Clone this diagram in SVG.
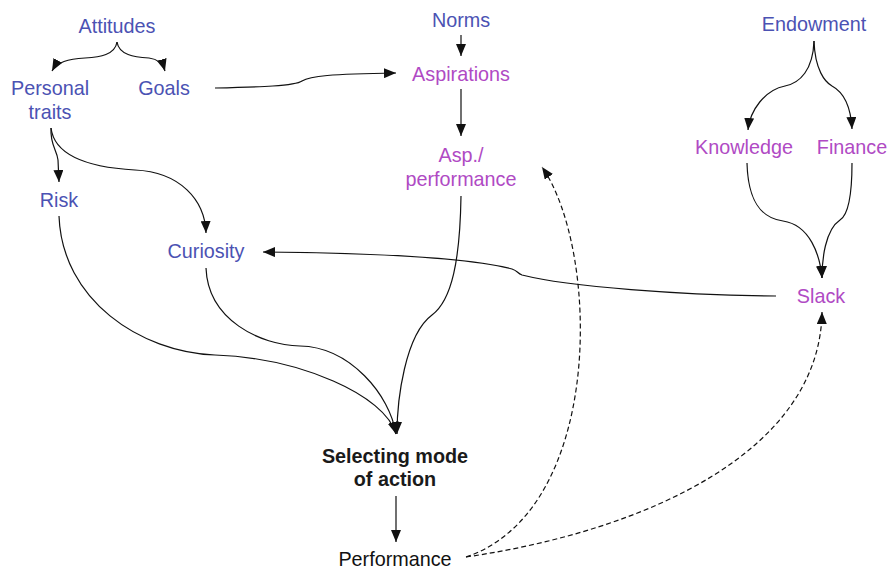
<svg xmlns="http://www.w3.org/2000/svg" width="889" height="569" viewBox="0 0 889 569">
<style>
text{font-family:"Liberation Sans",Arial,sans-serif;font-size:19.8px;text-anchor:middle}
.b{fill:#4b52b3}
.m{fill:#b04ac4}
.k{fill:#111}
.bold{font-weight:bold;fill:#1a1a1a}
.c{fill:none;stroke:#111;stroke-width:1.2}
.d{fill:none;stroke:#111;stroke-width:1.2;stroke-dasharray:5 3}
</style>
<defs>
<marker id="ah" markerUnits="userSpaceOnUse" markerWidth="12" markerHeight="10" viewBox="0 0 12 10" refX="12" refY="5" orient="auto">
<path d="M0,0 L12,5 L0,10 Z" fill="#111"/>
</marker>
</defs>
<rect width="889" height="569" fill="#fff"/>
<g id="connectors">
<path class="c" d="M117,42 C115,55 100,57 85,58 C68,59 57,62 52,71" marker-end="url(#ah)"/>
<path class="c" d="M117,42 C119,55 134,57 149,58 C158,59 163,64 165,71" marker-end="url(#ah)"/>
<path class="c" d="M215,88 C260,87 295,86 302,81 C310,76 330,74 396,73" marker-end="url(#ah)"/>
<path class="c" d="M461,35 L461,56" marker-end="url(#ah)"/>
<path class="c" d="M461,89 L461,136" marker-end="url(#ah)"/>
<path class="c" d="M51,128 C50,145 57,150 58,160 L59,182" marker-end="url(#ah)"/>
<path class="c" d="M51,128 C55,160 100,168 135,170 C180,172 205,200 206,233" marker-end="url(#ah)"/>
<path class="c" d="M59,216 C62,300 140,352 215,355 C300,358 385,395 396,434" marker-end="url(#ah)"/>
<path class="c" d="M206,268 C208,320 260,345 300,346 C350,347 390,395 396,434" marker-end="url(#ah)"/>
<path class="c" d="M461,196 C460,260 452,300 432,315 C405,335 397,400 397,434" marker-end="url(#ah)"/>
<path class="c" d="M396,496 L396,542" marker-end="url(#ah)"/>
<path class="c" d="M814,41 C813,70 800,83 785,86 C765,90 750,110 748,130" marker-end="url(#ah)"/>
<path class="c" d="M814,41 C815,70 825,82 832,86 C845,93 851,110 852,129" marker-end="url(#ah)"/>
<path class="c" d="M747,163 C748,200 760,218 783,221 C810,225 820,255 822,278" marker-end="url(#ah)"/>
<path class="c" d="M852,163 C852,195 848,215 840,220 C825,230 822,260 822,278" marker-end="url(#ah)"/>
<path class="c" d="M776,296 C680,295 570,287 522,275 C517,273 518,271 512,269 C470,258 380,253 263,252" marker-end="url(#ah)"/>
<path class="d" d="M466,557 C605,510 600,250 542,167" marker-end="url(#ah)"/>
<path class="d" d="M466,557 C650,530 820,450 822,312" marker-end="url(#ah)"/>
</g>
<g id="attitudes"><text class="b" x="117" y="33">Attitudes</text></g>
<g id="personal-traits"><text class="b" x="50" y="95">Personal</text><text class="b" x="50" y="119">traits</text></g>
<g id="goals"><text class="b" x="164" y="95">Goals</text></g>
<g id="risk"><text class="b" x="59" y="207">Risk</text></g>
<g id="curiosity"><text class="b" x="206" y="258">Curiosity</text></g>
<g id="norms"><text class="b" x="461" y="27">Norms</text></g>
<g id="aspirations"><text class="m" x="461" y="81">Aspirations</text></g>
<g id="asp-performance"><text class="m" x="461" y="162">Asp./</text><text class="m" x="461" y="186">performance</text></g>
<g id="endowment"><text class="b" x="814" y="31">Endowment</text></g>
<g id="knowledge"><text class="m" x="744" y="154">Knowledge</text></g>
<g id="finance"><text class="m" x="852" y="154">Finance</text></g>
<g id="slack"><text class="m" x="821" y="303">Slack</text></g>
<g id="selecting"><text class="bold" x="395" y="463">Selecting mode</text><text class="bold" x="395" y="486">of action</text></g>
<g id="performance"><text class="k" x="395" y="566">Performance</text></g>
</svg>
